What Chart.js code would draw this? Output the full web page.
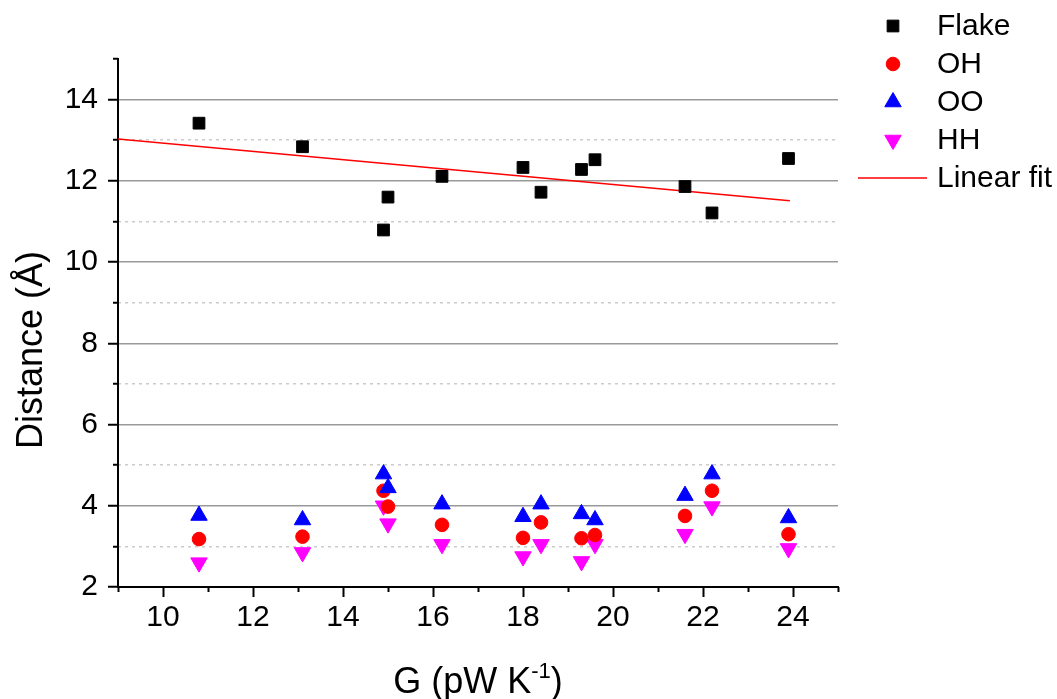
<!DOCTYPE html>
<html lang="en">
<head>
<meta charset="UTF-8">
<title>Distance vs G</title>
<style>
    body { margin: 0; background: #ffffff; }
    #wrap { width: 1057px; height: 699px; }
</style>
<script src="https://cdn.jsdelivr.net/npm/chart.js@4/dist/chart.umd.min.js"></script>
</head>
<body>
<div id="wrap"><canvas id="myChart" width="1057" height="699"></canvas></div>

<script type="text/javascript">
// valori
var gValues = [10.8, 13.1, 14.9, 15.0, 16.2, 18.0, 18.4, 19.3, 19.6, 21.6, 22.2, 23.9];
var flake = [13.42, 12.84, 10.79, 11.60, 12.11, 12.33, 11.72, 12.28, 12.52, 11.86, 11.21, 12.55];
var oh = [3.18, 3.24, 4.37, 3.98, 3.53, 3.21, 3.59, 3.20, 3.28, 3.75, 4.37, 3.30];
var oo = [3.76, 3.65, 4.78, 4.44, 4.04, 3.73, 4.04, 3.80, 3.65, 4.25, 4.78, 3.70];
var hh = [2.60, 2.85, 4.00, 3.56, 3.05, 2.75, 3.05, 2.63, 3.05, 3.30, 3.98, 2.95];
var fitX = [9, 23.93];
var fitY = [13.03, 11.51];

var seriesNames = ["Flake", "OH", "OO", "HH", "Linear fit"];
var xMajor = [10, 12, 14, 16, 18, 20, 22, 24];
var xMinor = [9, 11, 13, 15, 17, 19, 21, 23, 25];
var yMajor = [2, 4, 6, 8, 10, 12, 14];
var yMinor = [3, 5, 7, 9, 11, 13, 15];

var FONT = '"Liberation Sans", Arial, sans-serif';

function toPoints(xs, ys) {
    var pts = [];
    for (var i = 0; i < xs.length; i++) {
        pts.push({x: xs[i], y: ys[i]});
    }
    return pts;
}

function setTicks(values) {
    return function(scale) {
        scale.ticks = values.map(function(v) { return {value: v}; });
    };
}

// legenda a destra e titoli degli assi, disegnati a mano
const extrasPlugin = {
    id: 'extras',
    afterDraw(chart) {
        const ctx = chart.ctx;
        const area = chart.chartArea;
        ctx.save();

        // legenda
        let ly = 26;
        chart.data.datasets.forEach(function(ds) {
            ctx.fillStyle = ds.backgroundColor;
            ctx.strokeStyle = ds.borderColor;
            if (ds.showLine) {
                ctx.lineWidth = ds.borderWidth;
                ctx.beginPath();
                ctx.moveTo(858, ly);
                ctx.lineTo(927, ly);
                ctx.stroke();
            } else {
                ctx.lineWidth = 1;
                Chart.helpers.drawPoint(ctx, {
                    pointStyle: ds.pointStyle,
                    rotation: ds.rotation || 0,
                    radius: ds.pointRadius,
                    borderWidth: 1
                }, 893, ly);
            }
            ctx.fillStyle = '#000000';
            ctx.font = '30px ' + FONT;
            ctx.textAlign = 'left';
            ctx.textBaseline = 'middle';
            ctx.fillText(ds.label, 937, ly + 1);
            ly += 38;
        });

        // titolo asse x con apice
        ctx.fillStyle = '#000000';
        ctx.textBaseline = 'alphabetic';
        ctx.textAlign = 'left';
        const big = '36px ' + FONT, small = '22px ' + FONT;
        ctx.font = big;
        const w1 = ctx.measureText('G (pW K').width;
        const w3 = ctx.measureText(')').width;
        ctx.font = small;
        const w2 = ctx.measureText('-1').width;
        let tx = (area.left + area.right) / 2 - (w1 + w2 + w3) / 2;
        const base = 693;
        ctx.font = big;
        ctx.fillText('G (pW K', tx, base);
        ctx.font = small;
        ctx.fillText('-1', tx + w1, base - 15);
        ctx.font = big;
        ctx.fillText(')', tx + w1 + w2, base);

        // titolo asse y
        ctx.translate(42, 350);
        ctx.rotate(-Math.PI / 2);
        ctx.textAlign = 'center';
        ctx.font = big;
        ctx.fillText('Distance (\u00C5)', 0, 0);
        ctx.restore();
    }
};

const data = {
    datasets: [
        {
            label: seriesNames[0],
            data: toPoints(gValues, flake),
            pointStyle: 'rect',
            pointRadius: 8.3,
            backgroundColor: '#000000',
            borderColor: '#000000',
            borderWidth: 1,
            order: 4
        },
        {
            label: seriesNames[1],
            data: toPoints(gValues, oh),
            pointStyle: 'circle',
            pointRadius: 6.8,
            backgroundColor: '#ff0000',
            borderColor: '#ff0000',
            borderWidth: 1,
            order: 2
        },
        {
            label: seriesNames[2],
            data: toPoints(gValues, oo),
            pointStyle: 'triangle',
            pointRadius: 9.5,
            backgroundColor: '#0000ff',
            borderColor: '#0000ff',
            borderWidth: 1,
            order: 1
        },
        {
            label: seriesNames[3],
            data: toPoints(gValues, hh),
            pointStyle: 'triangle',
            rotation: 180,
            pointRadius: 9.5,
            backgroundColor: '#ff00ff',
            borderColor: '#ff00ff',
            borderWidth: 1,
            order: 3
        },
        {
            label: seriesNames[4],
            data: toPoints(fitX, fitY),
            showLine: true,
            pointRadius: 0,
            borderColor: '#ff0000',
            backgroundColor: '#ff0000',
            borderWidth: 1.5,
            order: 5
        }
    ]
};

const config = {
    type: 'scatter',
    data: data,
    plugins: [extrasPlugin],
    options: {
        responsive: false,
        animation: false,
        layout: { padding: { top: 59, right: 219, left: 0, bottom: 0 } },
        plugins: {
            legend: { display: false },
            tooltip: { enabled: false }
        },
        scales: {
            x: {
                type: 'linear',
                position: 'bottom',
                min: 9, max: 25,
                weight: 1,
                afterBuildTicks: setTicks(xMajor),
                afterFit: function(s) { s.height = 112; },
                grid: {
                    drawOnChartArea: false,
                    tickLength: 10,
                    tickWidth: 2,
                    tickColor: '#000000'
                },
                border: { color: '#000000', width: 2 },
                ticks: {
                    color: '#000000',
                    padding: 3,
                    font: { size: 30, family: FONT }
                }
            },
            x2: {
                type: 'linear',
                position: 'bottom',
                min: 9, max: 25,
                weight: 0,
                afterBuildTicks: setTicks(xMinor),
                afterFit: function(s) { s.height = 0; },
                grid: {
                    drawOnChartArea: false,
                    tickLength: 5,
                    tickWidth: 2,
                    tickColor: '#000000'
                },
                border: { display: false },
                ticks: { display: false }
            },
            y: {
                type: 'linear',
                position: 'left',
                min: 2, max: 15,
                weight: 2,
                afterBuildTicks: setTicks(yMajor),
                afterFit: function(s) { s.width = 118; },
                grid: {
                    color: function(c) { return c.tick && c.tick.value === 2 ? 'rgba(0,0,0,0)' : '#999999'; },
                    lineWidth: 1.5,
                    tickLength: 10,
                    tickWidth: 2,
                    tickColor: '#000000'
                },
                border: { color: '#000000', width: 2 },
                ticks: {
                    color: '#000000',
                    padding: 10,
                    font: { size: 30, family: FONT }
                }
            },
            y2: {
                type: 'linear',
                position: 'left',
                min: 2, max: 15,
                weight: 1,
                afterBuildTicks: setTicks(yMinor),
                afterFit: function(s) { s.width = 0; },
                grid: {
                    color: function(c) { return c.tick && c.tick.value === 15 ? 'rgba(0,0,0,0)' : '#cccccc'; },
                    lineWidth: 1.5,
                    tickLength: 5,
                    tickWidth: 2,
                    tickColor: '#000000'
                },
                border: { display: false, dash: [3, 4] },
                ticks: { display: false }
            }
        }
    }
};

var myChart = new Chart(document.getElementById('myChart'), config);
</script>
</body>
</html>
